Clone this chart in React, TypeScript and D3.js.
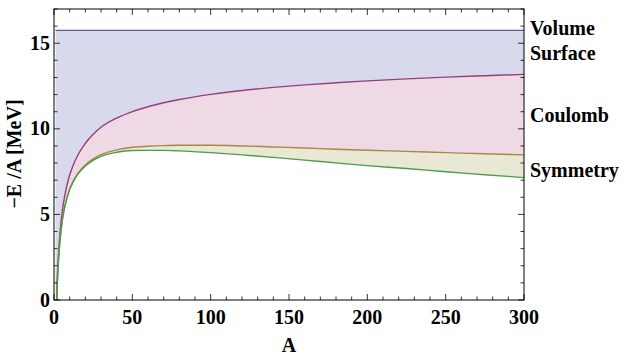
import React from "react";
import * as d3 from "d3";

const massNumbers = [1, 2, 3, 4, 5, 6, 8, 10, 12, 15, 20, 25, 30, 40, 50, 60, 70, 80, 100, 120, 140, 160, 180, 200, 225, 250, 275, 300];
const volumeValues = [15.75, 15.75, 15.75, 15.75, 15.75, 15.75, 15.75, 15.75, 15.75, 15.75, 15.75, 15.75, 15.75, 15.75, 15.75, 15.75, 15.75, 15.75, 15.75, 15.75, 15.75, 15.75, 15.75, 15.75, 15.75, 15.75, 15.75, 15.75];
const surfaceValues = [-2.95, 0.99, 2.89, 4.09, 4.99, 5.65, 6.6, 7.3, 7.82, 8.43, 9.15, 9.68, 10.09, 10.63, 11.01, 11.29, 11.52, 11.71, 12.01, 12.24, 12.42, 12.57, 12.69, 12.8, 12.92, 13.02, 13.1, 13.18];
const coulombValues = [-3.14, 0.69, 2.51, 3.63, 4.46, 5.05, 5.88, 6.47, 6.89, 7.37, 7.89, 8.24, 8.49, 8.77, 8.92, 8.98, 9.02, 9.04, 9.04, 9.0, 8.94, 8.88, 8.81, 8.75, 8.68, 8.61, 8.54, 8.48];
const symmetryValues = [-3.14, 0.69, 2.5, 3.62, 4.45, 5.04, 5.86, 6.45, 6.86, 7.33, 7.83, 8.16, 8.39, 8.63, 8.73, 8.74, 8.74, 8.71, 8.61, 8.48, 8.33, 8.17, 8.01, 7.85, 7.68, 7.49, 7.32, 7.15];

const xTicks = [0, 50, 100, 150, 200, 250, 300];
const yTicks = [0, 5, 10, 15];
const termLabels = ["Volume", "Surface", "Coulomb", "Symmetry"];
const termLabelValues = [15.48, 14.02, 10.4, 7.18];

const W = 632, H = 361;
const M = { left: 54, right: 524, top: 9, bottom: 300 };
const FONT = "'Liberation Serif', 'Times New Roman', serif";

export default function App() {
  const x = d3.scaleLinear().domain([0, 300]).range([M.left, M.right]);
  const y = d3.scaleLinear().domain([0, 17]).range([M.bottom, M.top]);

  const series = [volumeValues, surfaceValues, coulombValues, symmetryValues];
  const lineColors = ["#5b5b9c", "#94407a", "#a58a45", "#4e9a4e"];
  const fillColors = ["#d9d9ed", "#eed9e5", "#e9e8d5"];

  const line = (vals: number[]) =>
    d3.line<number>().x((_, i) => x(massNumbers[i])).y((v) => y(v)).curve(d3.curveMonotoneX)(vals) || "";
  const area = (top: number[], bot: number[]) =>
    d3
      .area<number>()
      .x((_, i) => x(massNumbers[i]))
      .y0((_, i) => y(bot[i]))
      .y1((v) => y(v))
      .curve(d3.curveMonotoneX)(top) || "";

  const xMinor = d3.range(0, 301, 10);
  const yMinor = d3.range(0, 18, 1);

  return (
    <svg width={W} height={H} style={{ position: "absolute", left: 0, top: 0, background: "#fff" }}>
      <defs>
        <clipPath id="plotclip">
          <rect x={M.left} y={M.top} width={M.right - M.left} height={M.bottom - M.top} />
        </clipPath>
      </defs>
      <g clipPath="url(#plotclip)">
        {fillColors.map((c, i) => (
          <path key={"a" + i} d={area(series[i], series[i + 1])} fill={c} stroke="none" />
        ))}
        {series.map((s, i) => (
          <path key={"l" + i} d={line(s)} fill="none" stroke={lineColors[i]} strokeWidth={1.4} />
        ))}
      </g>
      <rect x={M.left} y={M.top} width={M.right - M.left} height={M.bottom - M.top} fill="none" stroke="#000" strokeWidth={1} />
      {xMinor.map((t) => {
        const major = t % 50 === 0;
        const len = major ? 6 : 3.5;
        return (
          <g key={"xt" + t} stroke="#000" strokeWidth={0.8}>
            <line x1={x(t)} x2={x(t)} y1={M.bottom} y2={M.bottom - len} />
            <line x1={x(t)} x2={x(t)} y1={M.top} y2={M.top + len} />
          </g>
        );
      })}
      {yMinor.map((t) => {
        const major = t % 5 === 0;
        const len = major ? 6 : 3.5;
        return (
          <g key={"yt" + t} stroke="#000" strokeWidth={0.8}>
            <line x1={M.left} x2={M.left + len} y1={y(t)} y2={y(t)} />
            <line x1={M.right} x2={M.right - len} y1={y(t)} y2={y(t)} />
          </g>
        );
      })}
      {xTicks.map((t) => (
        <text key={"xl" + t} x={x(t)} y={324} textAnchor="middle" fontFamily={FONT} fontWeight="bold" fontSize={20} fill="#000">
          {t}
        </text>
      ))}
      {yTicks.map((t) => (
        <text key={"yl" + t} x={50} y={y(t) + 6.5} textAnchor="end" fontFamily={FONT} fontWeight="bold" fontSize={20} fill="#000">
          {t}
        </text>
      ))}
      <text x={289} y={352} textAnchor="middle" fontFamily={FONT} fontWeight="bold" fontSize={20} fill="#000">
        A
      </text>
      <text
        transform={`translate(21,154) rotate(-90)`}
        textAnchor="middle"
        fontFamily={FONT}
        fontWeight="bold"
        fontSize={20}
        fill="#000"
      >
        −E /A [MeV]
      </text>
      {termLabels.map((l, i) => (
        <text key={l} x={530} y={y(termLabelValues[i])} fontFamily={FONT} fontWeight="bold" fontSize={20} fill="#000">
          {l}
        </text>
      ))}
    </svg>
  );
}
